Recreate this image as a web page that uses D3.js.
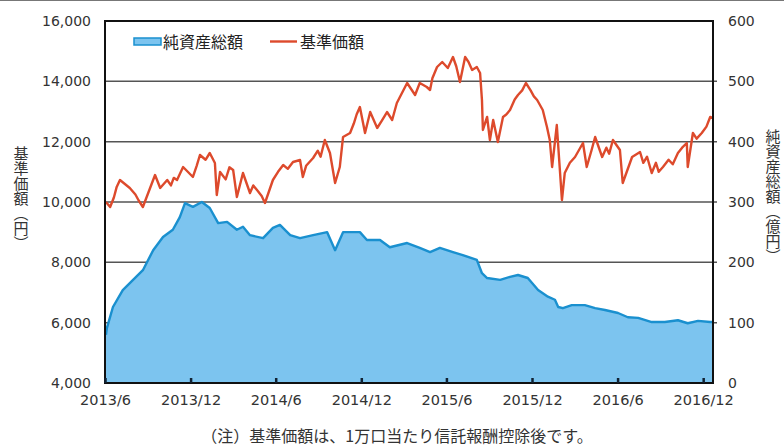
<!DOCTYPE html>
<html><head><meta charset="utf-8">
<script src="https://cdn.jsdelivr.net/npm/d3@7/dist/d3.min.js"></script>
<style>body{margin:0;background:#fff} svg{display:block}</style>
</head><body>
<svg id="c" width="784" height="446"></svg>
<script>
// 基準価額 (円)
const navDates = ["2013-06-03","2013-06-12","2013-06-20","2013-06-26","2013-07-03","2013-07-24","2013-08-05","2013-08-12","2013-08-21","2013-09-16","2013-09-27","2013-10-12","2013-10-20","2013-10-26","2013-11-02","2013-11-15","2013-12-06","2013-12-14","2013-12-21","2014-01-02","2014-01-11","2014-01-22","2014-01-26","2014-02-02","2014-02-14","2014-02-22","2014-03-02","2014-03-10","2014-03-23","2014-04-07","2014-04-14","2014-04-22","2014-05-02","2014-05-09","2014-05-26","2014-06-06","2014-06-17","2014-06-27","2014-07-08","2014-07-23","2014-07-29","2014-08-05","2014-08-20","2014-08-30","2014-09-05","2014-09-14","2014-09-25","2014-10-06","2014-10-16","2014-10-23","2014-11-07","2014-11-15","2014-11-21","2014-11-28","2014-12-09","2014-12-20","2015-01-04","2015-01-14","2015-01-25","2015-02-05","2015-02-15","2015-03-09","2015-03-26","2015-04-05","2015-04-20","2015-04-27","2015-05-02","2015-05-12","2015-05-23","2015-06-04","2015-06-15","2015-06-22","2015-06-30","2015-07-11","2015-07-18","2015-07-26","2015-08-05","2015-08-12","2015-08-16","2015-08-18","2015-08-27","2015-09-02","2015-09-09","2015-09-19","2015-09-30","2015-10-07","2015-10-15","2015-10-25","2015-11-01","2015-11-10","2015-11-18","2015-11-28","2015-12-05","2015-12-12","2015-12-24","2016-01-02","2016-01-08","2016-01-13","2016-01-23","2016-02-03","2016-02-09","2016-02-20","2016-03-02","2016-03-19","2016-03-27","2016-04-06","2016-04-14","2016-04-29","2016-05-08","2016-05-14","2016-05-22","2016-06-06","2016-06-12","2016-07-02","2016-07-19","2016-07-26","2016-08-03","2016-08-13","2016-08-22","2016-08-28","2016-09-06","2016-09-18","2016-09-27","2016-10-08","2016-10-17","2016-10-27","2016-10-29","2016-11-09","2016-11-17","2016-11-28","2016-12-08","2016-12-16","2016-12-22"];
const navValues = [10000,9834,10150,10500,10729,10464,10250,10050,9834,10895,10464,10729,10550,10800,10729,11160,10829,11200,11558,11400,11624,11293,10232,10994,10750,11150,11061,10166,10961,10298,10550,10398,10200,9967,10729,11000,11226,11100,11326,11392,10829,11200,11458,11700,11500,12055,11624,10630,11160,12155,12287,12600,12900,13149,12287,12983,12453,12700,12983,12718,13282,13945,13547,13945,13812,13713,14100,14475,14641,14442,14807,14500,13978,14807,14650,14376,14475,14276,13381,12387,12818,12055,12718,11989,12818,12900,13050,13400,13547,13700,13945,13700,13500,13381,13050,12486,12055,11160,12552,10066,10961,11300,11492,11956,11160,11700,12155,11492,11800,11600,12055,11724,10630,11492,11657,11300,11500,10961,11300,11000,11160,11400,11250,11624,11800,11956,11160,12287,12100,12287,12500,12818,12784];

// 純資産総額 (億円)
const assetDates = ["2013-06-03","2013-06-05","2013-06-18","2013-07-09","2013-07-31","2013-08-21","2013-09-12","2013-10-03","2013-10-24","2013-11-08","2013-11-19","2013-12-06","2013-12-25","2014-01-11","2014-01-29","2014-02-17","2014-03-10","2014-03-23","2014-04-07","2014-05-05","2014-05-26","2014-06-10","2014-07-02","2014-07-23","2014-08-20","2014-09-19","2014-10-06","2014-10-23","2014-11-28","2014-12-13","2015-01-10","2015-01-31","2015-03-09","2015-04-05","2015-04-27","2015-05-18","2015-06-15","2015-07-06","2015-08-05","2015-08-16","2015-08-27","2015-09-24","2015-10-15","2015-11-01","2015-11-22","2015-12-14","2016-01-04","2016-01-19","2016-01-26","2016-02-05","2016-02-24","2016-03-23","2016-04-14","2016-05-05","2016-06-02","2016-06-23","2016-07-15","2016-08-13","2016-09-10","2016-10-08","2016-10-29","2016-11-20","2016-12-16","2016-12-22"];
const assetValues = [80,91,126,154,171,187,220,242,254,275,298,292,300,290,265,267,254,259,245,240,257,262,245,240,245,250,220,250,250,237,237,225,232,224,217,224,217,212,204,182,174,171,176,179,174,154,143,138,126,124,129,129,124,121,116,109,108,101,101,104,99,103,101,101];

const xTickDates = ["2013-06-01","2013-12-01","2014-06-01","2014-12-01","2015-06-01","2015-12-01","2016-06-01","2016-12-01"];
const xTickLabels = ["2013/6","2013/12","2014/6","2014/12","2015/6","2015/12","2016/6","2016/12"];
const leftTicks = [4000,6000,8000,10000,12000,14000,16000];
const rightTicks = [0,100,200,300,400,500,600];
const legendLabels = ["純資産総額","基準価額"];
const leftTitle = "基準価額（円）";
const rightTitle = "純資産総額（億円）";
const noteText = "（注）基準価額は、1万口当たり信託報酬控除後です。";

const parse = d3.timeParse("%Y-%m-%d");
const svg = d3.select("#c");
const L = 105, R = 713, T = 21, B = 383;
const numFont = "'DejaVu Sans', sans-serif";
const jpFont = "'Noto Sans CJK JP', sans-serif";

const x = d3.scaleTime().domain([parse("2013-06-01"), parse("2016-12-22")]).range([L, R]);
const yL = d3.scaleLinear().domain([4000, 16000]).range([B, T]);
const yR = d3.scaleLinear().domain([0, 600]).range([B, T]);

const nav = navDates.map((d, i) => ({d: parse(d), v: navValues[i]}));
const assets = assetDates.map((d, i) => ({d: parse(d), v: assetValues[i]}));

// top stray line
svg.append("line").attr("x1", 0).attr("x2", 784).attr("y1", 0.5).attr("y2", 0.5)
  .attr("stroke", "#777").attr("stroke-width", 1);

// gridlines
svg.append("g").selectAll("line").data(leftTicks.slice(1, -1)).join("line")
  .attr("x1", L).attr("x2", R + 4)
  .attr("y1", d => yL(d)).attr("y2", d => yL(d))
  .attr("stroke", "#555").attr("stroke-width", 1.5);

// area
svg.append("path").datum(assets)
  .attr("d", d3.area().x(d => x(d.d)).y0(yR(0)).y1(d => yR(d.v)))
  .attr("fill", "#7cc4ef");
svg.append("path").datum(assets)
  .attr("d", d3.line().x(d => x(d.d)).y(d => yR(d.v)))
  .attr("fill", "none").attr("stroke", "#1a90cf").attr("stroke-width", 2.4)
  .attr("stroke-linejoin", "round");

// nav line
svg.append("path").datum(nav)
  .attr("d", d3.line().x(d => x(d.d)).y(d => yL(d.v)))
  .attr("fill", "none").attr("stroke", "#dd4a2c").attr("stroke-width", 2.4)
  .attr("stroke-linejoin", "round");

// frame
svg.append("rect").attr("x", L).attr("y", T).attr("width", R - L).attr("height", B - T)
  .attr("fill", "none").attr("stroke", "#111").attr("stroke-width", 2);

// axes
const xAxis = d3.axisBottom(x).tickValues(xTickDates.map(parse))
  .tickFormat((d, i) => xTickLabels[i]).tickSize(-5).tickPadding(12);
const gx = svg.append("g").attr("transform", `translate(0,${B})`).call(xAxis);
gx.select(".domain").remove();
gx.selectAll(".tick line").attr("stroke", "#123").attr("stroke-width", 2.5);
gx.selectAll("text").attr("font-family", numFont).attr("font-size", 14.5).attr("fill", "#333");

const yAxisL = d3.axisLeft(yL).tickValues(leftTicks).tickFormat(d3.format(",")).tickSize(0).tickPadding(14);
const gl = svg.append("g").attr("transform", `translate(${L},0)`).call(yAxisL);
gl.select(".domain").remove();
gl.selectAll("text").attr("font-family", numFont).attr("font-size", 14).attr("fill", "#333");

const yAxisR = d3.axisRight(yR).tickValues(rightTicks).tickSize(0).tickPadding(15);
const gr = svg.append("g").attr("transform", `translate(${R},0)`).call(yAxisR);
gr.select(".domain").remove();
gr.selectAll("text").attr("font-family", numFont).attr("font-size", 14).attr("fill", "#333");

// legend
const lg = svg.append("g");
lg.append("rect").attr("x", 134).attr("y", 38).attr("width", 27).attr("height", 7)
  .attr("fill", "#7cc4ef").attr("stroke", "#1a90cf").attr("stroke-width", 1.5);
lg.append("text").attr("x", 163).attr("y", 47.5).text(legendLabels[0])
  .attr("font-family", jpFont).attr("font-size", 16).attr("fill", "#222");
lg.append("line").attr("x1", 270).attr("x2", 297).attr("y1", 41.5).attr("y2", 41.5)
  .attr("stroke", "#dd4a2c").attr("stroke-width", 2.4);
lg.append("text").attr("x", 300).attr("y", 47.5).text(legendLabels[1])
  .attr("font-family", jpFont).attr("font-size", 16).attr("fill", "#222");

// titles
svg.append("text").attr("x", 21).attr("y", 198).text(leftTitle)
  .attr("font-family", jpFont).attr("font-size", 15).attr("fill", "#333")
  .attr("text-anchor", "middle").style("writing-mode", "vertical-rl");
svg.append("text").attr("x", 773).attr("y", 196).text(rightTitle)
  .attr("font-family", jpFont).attr("font-size", 15).attr("fill", "#333")
  .attr("text-anchor", "middle").style("writing-mode", "vertical-rl");

// note
svg.append("text").attr("x", 397).attr("y", 442).text(noteText)
  .attr("font-family", jpFont).attr("font-size", 16).attr("fill", "#333")
  .attr("text-anchor", "middle");
</script>
</body></html>
